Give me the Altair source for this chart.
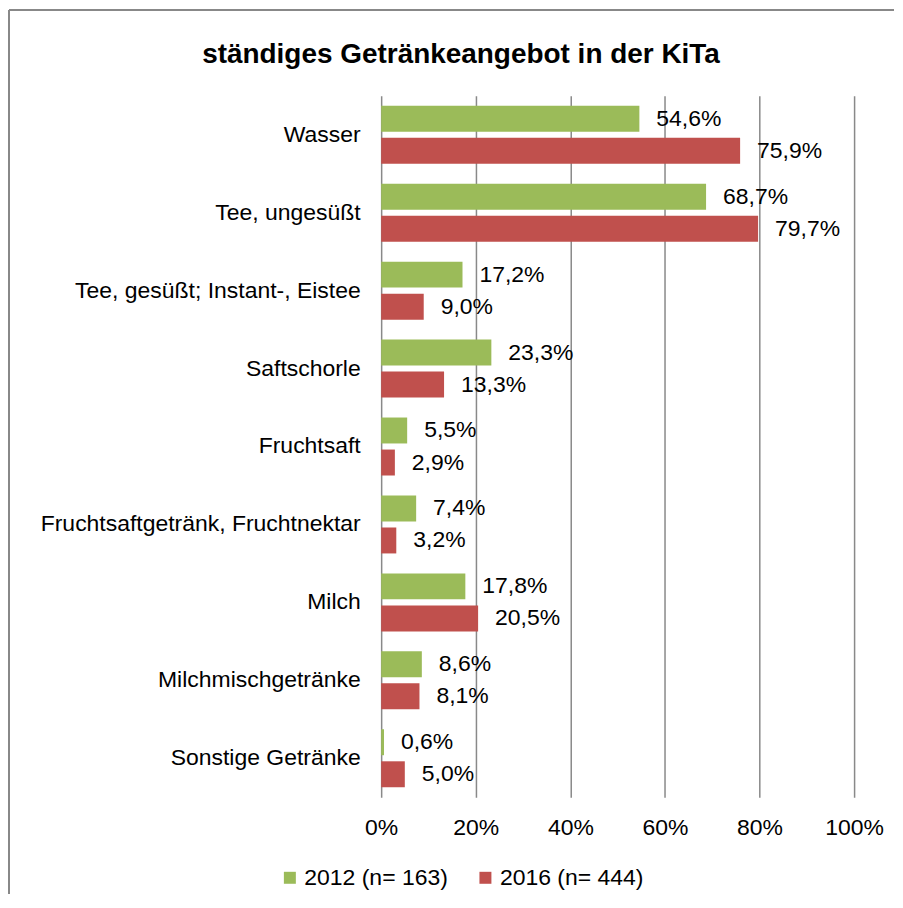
import altair as alt
import pandas as pd

categories = [
    "Wasser",
    "Tee, ungesüßt",
    "Tee, gesüßt; Instant-, Eistee",
    "Saftschorle",
    "Fruchtsaft",
    "Fruchtsaftgetränk, Fruchtnektar",
    "Milch",
    "Milchmischgetränke",
    "Sonstige Getränke",
]
series_names = ["2012 (n= 163)", "2016 (n= 444)"]
values_2012 = [54.6, 68.7, 17.2, 23.3, 5.5, 7.4, 17.8, 8.6, 0.6]
values_2016 = [75.9, 79.7, 9.0, 13.3, 2.9, 3.2, 20.5, 8.1, 5.0]
colors = ["#9BBB59", "#C0504D"]
x_ticks = [0, 20, 40, 60, 80, 100]
title_text = "ständiges Getränkeangebot in der KiTa"

rows = []
for c, a, b in zip(categories, values_2012, values_2016):
    for s, v in zip(series_names, (a, b)):
        rows.append({"cat": c, "series": s, "value": v,
                     "label": f"{v:.1f}".replace(".", ",") + "%"})
df = pd.DataFrame(rows)

FONT = "Liberation Sans"
W, H = 474, 703

y_enc = alt.Y("cat:N", sort=categories,
              scale=alt.Scale(paddingInner=0.256, paddingOuter=0.128),
              axis=alt.Axis(title=None, domain=False, ticks=False, labelPadding=21,
                            labelFont=FONT, labelFontSize=23, labelColor="#000000",
                            labelLimit=400, minExtent=373, maxExtent=373))
yoff_enc = alt.YOffset("series:N", sort=series_names,
                       scale=alt.Scale(paddingInner=0.19, paddingOuter=0))
x_enc = alt.X("value:Q", scale=alt.Scale(domain=[0, 100], nice=False),
              axis=alt.Axis(title=None, values=x_ticks, domain=False, ticks=False,
                            grid=True, gridColor="#898989", gridWidth=1.5,
                            labelFlush=False, labelOverlap=False,
                            labelExpr="datum.value + '%'", labelPadding=19,
                            labelFont=FONT, labelFontSize=23, labelColor="#000000"))

base = alt.Chart(df)

bars = base.mark_bar().encode(
    y=y_enc, yOffset=yoff_enc, x=x_enc,
    color=alt.Color("series:N", sort=series_names,
                    scale=alt.Scale(domain=series_names, range=colors),
                    legend=alt.Legend(title=None, orient="none", direction="horizontal",
                                      legendX=-103, legendY=772, symbolType="square",
                                      symbolSize=144, symbolStrokeWidth=0,
                                      labelFont=FONT, labelFontSize=23, labelColor="#000000",
                                      labelOffset=3, columnPadding=26, padding=0,
                                      labelLimit=300)),
)

texts = base.mark_text(align="left", baseline="middle", dx=17, font=FONT,
                       fontSize=23, color="#000000").encode(
    y=alt.Y("cat:N", sort=categories), yOffset=alt.YOffset("series:N", sort=series_names),
    x="value:Q", text="label:N",
)

frame_df = pd.DataFrame({"a": [0]})
left_border = alt.Chart(frame_df).mark_rule(color="#888888", strokeWidth=2).encode(
    x=alt.value(-373), y=alt.value(-86), y2=alt.value(800))
top_border = alt.Chart(frame_df).mark_rule(color="#888888", strokeWidth=2).encode(
    x=alt.value(-373), x2=alt.value(514), y=alt.value(-86))
title = alt.Chart(frame_df).mark_text(font=FONT, fontSize=28, fontWeight="bold",
                                      color="#000000", align="center",
                                      baseline="alphabetic").encode(
    x=alt.value(80), y=alt.value(-33), text=alt.value(title_text))

chart = alt.layer(bars, texts, left_border, top_border, title).properties(
    width=W, height=H, padding=0,
).configure_view(stroke=None)

chart.save("out.html", embed_options={"renderer": "svg", "actions": False})
